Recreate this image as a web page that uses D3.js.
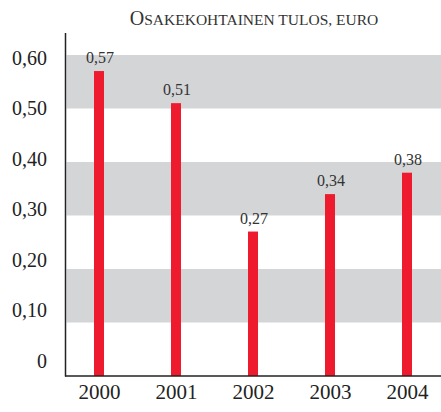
<!DOCTYPE html>
<html>
<head>
<meta charset="utf-8">
<script src="https://cdn.jsdelivr.net/npm/d3@7"></script>
<style>
  body { margin: 0; background: #fff; }
  text { font-family: "Liberation Serif", "Times New Roman", serif; }
</style>
</head>
<body>
<div id="chart"></div>
<script>
// data
var years = ["2000", "2001", "2002", "2003", "2004"];
var values = [0.57, 0.51, 0.27, 0.34, 0.38];
var tickValues = [0, 0.1, 0.2, 0.3, 0.4, 0.5, 0.6];
var bandRanges = [[0.1, 0.2], [0.3, 0.4], [0.5, 0.6]];

var width = 441, height = 412;

var svg = d3.select("#chart")
    .append("svg")
    .attr("width", width)
    .attr("height", height);

// scales
var x = d3.scalePoint().domain(years).range([60.5, 445.5]).padding(0.5);
var y = d3.scaleLinear().domain([0, 0.6]).range([376, 55]);
// the tick labels sit a bit off the band edges in the original
var yLabel = d3.scaleLinear().domain([0, 0.6]).range([361, 58]);

var comma = d3.formatLocale({decimal: ",", thousands: " ", grouping: [3], currency: ["", "€"]});
var fmt2 = comma.format(".2f");
var tickFmt = function(d) { return d === 0 ? "0" : fmt2(d); };

// grey bands
svg.selectAll("rect.band")
    .data(bandRanges)
    .enter().append("rect")
    .attr("class", "band")
    .attr("x", 66.5)
    .attr("width", width - 66.5)
    .attr("y", function(d) { return y(d[1]); })
    .attr("height", function(d) { return y(d[0]) - y(d[1]); })
    .attr("fill", "#d4d5d7");

// bars
svg.selectAll("rect.bar")
    .data(values)
    .enter().append("rect")
    .attr("class", "bar")
    .attr("x", function(d, i) { return x(years[i]) - 5; })
    .attr("width", 10)
    .attr("y", function(d) { return y(d); })
    .attr("height", function(d) { return y(0) - y(d); })
    .attr("fill", "#ee1b2e");

// value labels
svg.selectAll("text.val")
    .data(values)
    .enter().append("text")
    .attr("class", "val")
    .attr("x", function(d, i) { return x(years[i]) + 1; })
    .attr("y", function(d) { return y(d) - 8; })
    .attr("text-anchor", "middle")
    .style("font-size", "16px")
    .attr("fill", "#333")
    .text(function(d) { return fmt2(d); });

// axis lines
svg.append("line")
    .attr("x1", 65.5).attr("x2", 65.5)
    .attr("y1", 33).attr("y2", y(0) + 0.5)
    .attr("stroke", "#222").attr("stroke-width", 1.5);
svg.append("line")
    .attr("x1", 65).attr("x2", width)
    .attr("y1", y(0)).attr("y2", y(0))
    .attr("stroke", "#222").attr("stroke-width", 1.5);

// y labels
var yAxis = svg.append("g")
    .attr("transform", "translate(47,0)")
    .call(d3.axisLeft(yLabel).tickValues(tickValues).tickFormat(tickFmt).tickSize(0).tickPadding(0));
yAxis.select(".domain").remove();
yAxis.selectAll("text")
    .style("font-size", "20px")
    .style("font-family", "Liberation Serif, serif")
    .attr("fill", "#222");

// x labels
var xAxis = svg.append("g")
    .attr("transform", "translate(0," + y(0) + ")")
    .call(d3.axisBottom(x).tickSize(0).tickPadding(8));
xAxis.select(".domain").remove();
xAxis.selectAll("text")
    .style("font-size", "21px")
    .style("font-family", "Liberation Serif, serif")
    .attr("fill", "#222");

// title in small caps
var title = svg.append("text")
    .attr("x", 254)
    .attr("y", 25)
    .attr("text-anchor", "middle")
    .attr("fill", "#333");
title.append("tspan").style("font-size", "20px").text("O");
title.append("tspan").style("font-size", "15.5px").text("SAKEKOHTAINEN TULOS, EURO");
</script>
</body>
</html>
